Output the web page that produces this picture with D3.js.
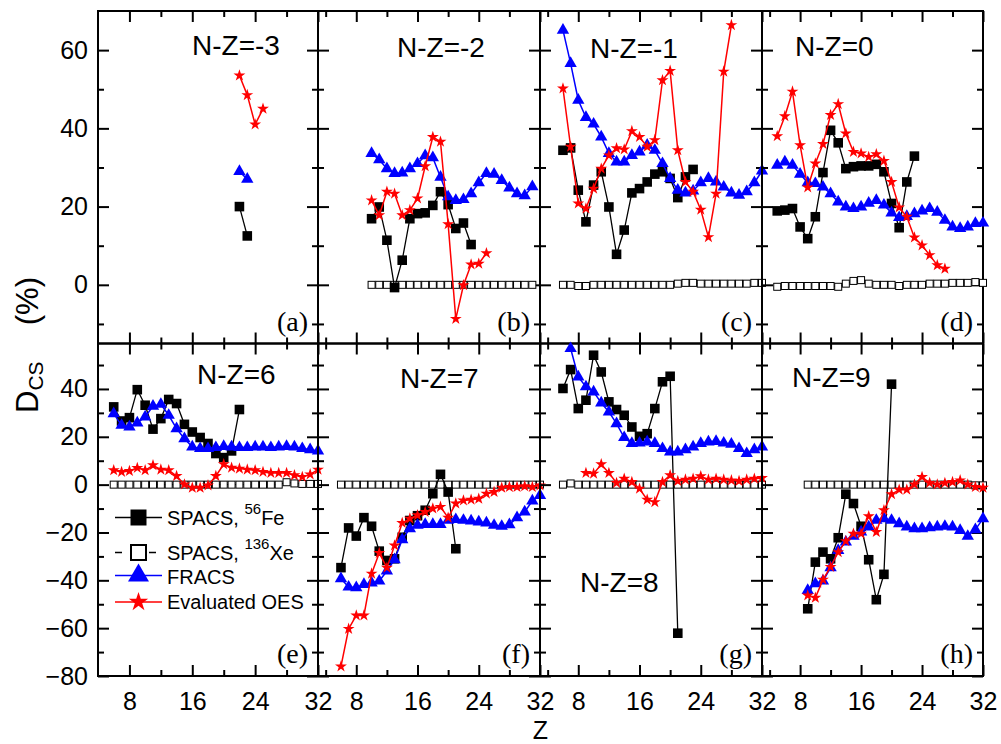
<!DOCTYPE html>
<html>
<head>
<meta charset="utf-8">
<script src="https://cdn.jsdelivr.net/npm/d3@7"></script>
<style>
  body { margin: 0; background: #fff; }
  svg { display: block; }
</style>
</head>
<body>
<div id="chart"></div>
<script>
// panel captions
const nzLabels = ["N-Z=-3", "N-Z=-2", "N-Z=-1", "N-Z=0", "N-Z=6", "N-Z=7", "N-Z=8", "N-Z=9"];
const panelTags = ["(a)", "(b)", "(c)", "(d)", "(e)", "(f)", "(g)", "(h)"];

// SPACS, 56Fe  (first Z of each panel, then consecutive Z values)
const feStart = [22, 10, 6, 5, 6, 6, 6, 9];
const feVals = [
  [20, 12.5],
  [16.9, 19.9, 11.4, -0.7, 6.3, 16.9, 18.2, 18.4, 20.3, 23.8, 20.5, 14.4, 15.8, 10.3],
  [34.4, 35.0, 24.2, 16.1, 25.5, 28.9, 19.9, 7.8, 14.0, 23.5, 24.6, 26.3, 28.3, 28.9, 27.2, 22.3, 27.6, 29.5],
  [18.9, 19.1, 19.5, 14.8, 11.8, 17.4, 28.7, 39.5, 36.3, 29.7, 30.2, 30.4, 30.4, 30.8, 28.9, 20.8, 14.6, 26.3, 32.9],
  [32.5, 26.6, 28.0, 39.7, 33.2, 23.2, 27.6, 35.6, 33.9, 25.2, 22.0, 19.7, 17.2, 13.0, 11.3, 14.1, 31.4],
  [-34.7, -18.1, -21.5, -13.8, -17.4, -27.8, -31.7, -31.0, -22.0, -15.0, -13.0, -10.7, -3.8, 4.3, -3.1, -26.8],
  [40.2, 48.1, 31.8, 35.3, 54.1, 47.1, 34.6, 31.4, 29.0, 24.1, 20.2, 21.3, 31.8, 43.0, 45.3, -62.1],
  [-51.9, -32.4, -28.2, -31.0, -22.2, -4.0, -7.9, -17.4, -31.4, -48.1, -37.5, 42.0]
];

// SPACS, 136Xe
const xeStart = [0, 10, 6, 5, 6, 6, 6, 9];
const xeVals = [
  [],
  [0, 0, 0, 0, 0, 0, 0, 0, 0, 0, 0, 0, 0, 0, 0, 0, 0, 0, 0, 0, 0, 0],
  [0, 0, -0.3, -0.3, 0, 0, 0, 0, 0, 0, 0, 0, 0, 0, 0, 0.3, 0.5, 0.5, 0.3, 0.3, 0.3, 0.3, 0.3, 0.3, 0.3, 0.5, 0.5],
  [-0.5, -0.3, -0.3, -0.3, -0.3, -0.3, -0.3, -0.3, -0.5, 0.3, 1.0, 1.2, 0.3, 0, 0, 0, -0.3, 0, 0, 0, 0.3, 0.3, 0.3, 0.5, 0.5, 0.5, 0.7, 0.5],
  [0, 0, 0, 0, 0, 0, 0, 0, 0, 0, 0, 0, 0, 0, 0, 0, 0, 0, 0, 0, 0, 0, 1.0, 0.5, 0.3, 0.3, 0.3],
  [0, 0, 0, 0, 0, 0, 0, 0, 0, 0, 0, 0, 0, 0, 0, 0, 0, 0, 0, 0, 0, 0, 0, 0, 0, 0, 0],
  [0, 0.5, 0, 0, 0, 0, 0, 0, 0, 0, 0, 0, 0, 0, 0, 0, 0, 0, 0, 0, 0, 0, 0, 0, 0, 0, 0],
  [0, 0, 0, 0, 0, 0, 0, 0, 0, 0, 0, 0, 0, 0, 0, 0, 0, 0, 0, 0, 0, 0, -0.3, -0.3]
];

// FRACS
const frStart = [22, 10, 6, 5, 6, 6, 7, 9];
const frVals = [
  [29, 27],
  [33.6, 32.0, 29.7, 28.5, 28.6, 29.7, 31.0, 33.0, 32.5, 27.5, 22.5, 21.6, 21.8, 23.3, 26.1, 28.5, 28.3, 26.7, 24.8, 23.3, 22.8, 25.1],
  [65.1, 56.6, 47.2, 42.8, 41.1, 37.8, 33.6, 31.4, 31.4, 33.1, 34.0, 35.7, 34.4, 31.0, 27.2, 24.2, 23.5, 24.0, 26.1, 27.2, 26.3, 25.0, 23.5, 22.9, 23.8, 26.1, 29.1],
  [30.6, 31.4, 30.6, 28.3, 26.1, 25.9, 25.0, 23.3, 21.2, 19.9, 19.5, 19.9, 20.9, 21.6, 20.4, 18.4, 17.2, 17.5, 18.2, 18.9, 19.5, 18.6, 16.5, 14.8, 14.4, 14.8, 15.7, 15.8],
  [29.7, 24.8, 24.1, 25.8, 28.3, 32.8, 33.6, 29.0, 23.4, 19.2, 15.8, 15.1, 15.1, 15.5, 16.0, 15.8, 15.5, 15.5, 15.8, 15.8, 15.5, 15.8, 16.0, 15.8, 15.1, 14.6, 14.1],
  [-39.3, -42.8, -43.1, -41.7, -41.1, -40.3, -36.1, -31.4, -23.0, -18.4, -17.0, -16.6, -16.6, -16.6, -14.9, -14.6, -14.9, -15.2, -15.6, -16.0, -17.0, -17.4, -16.7, -13.8, -11.4, -6.8, -4.5],
  [56.9, 45.0, 40.9, 38.8, 34.2, 30.4, 25.5, 19.7, 17.2, 17.4, 17.9, 17.2, 15.1, 13.7, 13.7, 14.6, 15.8, 17.2, 17.9, 18.1, 17.4, 16.9, 15.1, 13.0, 14.6, 15.8],
  [-44.2, -41.4, -40.3, -34.7, -27.5, -24.0, -21.6, -19.8, -17.7, -14.9, -14.2, -14.9, -16.3, -17.7, -18.4, -18.4, -18.0, -17.7, -17.4, -17.7, -19.1, -21.6, -18.8, -14.2]
];

// Evaluated OES
const oesStart = [22, 10, 6, 5, 6, 6, 9, 9];
const oesVals = [
  [53.5, 48.5, 41, 45],
  [21.6, 17.8, 23.8, 23.3, 17.8, 19.1, 22.1, 30.3, 37.8, 36.6, 15.5, -8.7, -0.1, 5.2, 5.4, 8.1],
  [50.2, 35.3, 20.8, 19.5, 24.6, 29.7, 33.1, 34.9, 34.6, 39.3, 37.8, 35.3, 37.0, 52.3, 54.7, 34.4, 26.3, 23.8, 19.2, 12.2, 23.3, 54.5, 66.4],
  [38.0, 43.1, 49.4, 35.7, 24.9, 31.0, 36.0, 43.4, 46.2, 38.7, 34.0, 33.6, 32.7, 33.4, 31.7, 26.3, 19.8, 17.4, 12.1, 10.1, 7.6, 5.0, 4.1],
  [6.0, 5.3, 5.7, 7.0, 6.0, 8.1, 6.3, 6.0, 3.6, 0.1, -1.3, -1.3, -0.3, 3.6, 8.5, 7.1, 6.7, 6.3, 6.0, 5.3, 4.9, 4.9, 4.9, 3.9, 3.2, 4.3, 6.3],
  [-76, -60.3, -54.7, -54.7, -37.2, -28.6, -34.7, -25.4, -16.0, -14.2, -12.8, -11.4, -10.0, -9.3, -13.8, -7.9, -6.6, -6.3, -5.9, -3.8, -3.1, -1.3, -1.0, -1.0, -0.7, -1.0, -0.3],
  [4.9, 4.6, 8.5, 4.9, 0.7, 2.5, 1.1, -1.7, -6.3, -7.3, 1.1, 3.9, 1.5, 2.1, 2.5, 3.5, 2.1, 2.5, 2.1, 1.8, 1.5, 2.1, 2.5, 2.8],
  [-46.3, -47.3, -39.7, -34.4, -28.2, -23.6, -20.5, -20.5, -13.2, -19.8, -10.7, -4.0, -2.1, -2.1, 0.1, 3.2, 0.7, 0.1, 0.7, 1.1, 1.8, 0.1, -1.0, -1.3]
];

// axes
const xDomains = [[4, 32], [3, 32], [3, 32], [3, 32]];
const yDomains = [[-15, 70], [-80, 59]];
const xMajor = [8, 16, 24, 32], xMinor = [4, 12, 20, 28];
const yMajor = [[0, 20, 40, 60], [-80, -60, -40, -20, 0, 20, 40]];
const yMinor = [[-10, 10, 30, 50], [-70, -50, -30, -10, 10, 30, 50]];

// legend
const legendNames = ["SPACS, ", "SPACS, ", "FRACS", "Evaluated OES"];

const W = 1001, Ht = 744;
const colL = [98, 318, 540, 762], colR = [318, 540, 762, 983];
const rowT = [11, 343.5], rowB = [343.5, 676];
const nzPos = [[192, 45], [397, 47], [590, 48], [795, 46], [197, 374], [400, 378], [580, 582], [792, 377]];
const SANS = "'Liberation Sans', Arial, sans-serif", SERIF = "'Liberation Serif', 'Times New Roman', serif";
const BLUE = "#0000ff", RED = "#ff0000";

const svg = d3.select("#chart").append("svg").attr("width", W).attr("height", Ht)
  .attr("viewBox", `0 0 ${W} ${Ht}`);

const sym = (type, size) => d3.symbol().type(type).size(size)();

function styleAxis(g) {
  g.select(".domain").remove();
  g.selectAll(".tick line").attr("stroke", "#000").attr("stroke-width", 2);
  g.selectAll(".tick text").attr("fill", "#000").style("font-family", SANS).style("font-size", "25px");
}

for (let p = 0; p < 8; p++) {
  const col = p % 4, row = Math.floor(p / 4);
  const x = d3.scaleLinear().domain(xDomains[col]).range([colL[col], colR[col]]);
  const y = d3.scaleLinear().domain(yDomains[row]).range([rowB[row], rowT[row]]);
  const inX = v => v >= xDomains[col][0] && v <= xDomains[col][1];
  const inY = v => v >= yDomains[row][0] && v <= yDomains[row][1];
  const g = svg.append("g");

  const xMaj = xMajor.filter(inX), xMin = xMinor.filter(v => inX(v) && v > xDomains[col][0]);
  const yMaj = yMajor[row].filter(inY), yMin = yMinor[row].filter(inY);

  // bottom
  g.append("g").attr("transform", `translate(0,${rowB[row]})`)
    .call(d3.axisBottom(x).tickValues(xMaj).tickSize(-11).tickPadding(16.5)
      .tickFormat(row === 1 ? d3.format("d") : "")).call(styleAxis);
  g.append("g").attr("transform", `translate(0,${rowB[row]})`)
    .call(d3.axisBottom(x).tickValues(xMin).tickSize(-6).tickFormat("")).call(styleAxis);
  // top
  g.append("g").attr("transform", `translate(0,${rowT[row]})`)
    .call(d3.axisTop(x).tickValues(xMaj).tickSize(-11).tickFormat("")).call(styleAxis);
  g.append("g").attr("transform", `translate(0,${rowT[row]})`)
    .call(d3.axisTop(x).tickValues(xMin).tickSize(-6).tickFormat("")).call(styleAxis);
  // left
  g.append("g").attr("transform", `translate(${colL[col]},0)`)
    .call(d3.axisLeft(y).tickValues(yMaj).tickSize(-11).tickPadding(10)
      .tickFormat(col === 0 ? d3.format("d") : "")).call(styleAxis);
  g.append("g").attr("transform", `translate(${colL[col]},0)`)
    .call(d3.axisLeft(y).tickValues(yMin).tickSize(-6).tickFormat("")).call(styleAxis);
  // right
  g.append("g").attr("transform", `translate(${colR[col]},0)`)
    .call(d3.axisRight(y).tickValues(yMaj).tickSize(-11).tickFormat("")).call(styleAxis);
  g.append("g").attr("transform", `translate(${colR[col]},0)`)
    .call(d3.axisRight(y).tickValues(yMin).tickSize(-6).tickFormat("")).call(styleAxis);

  g.append("rect").attr("x", colL[col]).attr("y", rowT[row])
    .attr("width", colR[col] - colL[col]).attr("height", rowB[row] - rowT[row])
    .attr("fill", "none").attr("stroke", "#000").attr("stroke-width", 2);

  const pts = (start, vals) => vals.map((v, i) => [start + i, v]);
  const line = d3.line().x(d => x(d[0])).y(d => y(d[1]));

  // SPACS 136Xe
  const xe = pts(xeStart[p], xeVals[p]);
  if (xe.length) {
    g.append("path").datum(xe).attr("d", line).attr("fill", "none")
      .attr("stroke", "#000").attr("stroke-width", 1).attr("stroke-dasharray", "4,3");
    g.selectAll(null).data(xe).join("rect")
      .attr("x", d => x(d[0]) - 3.5).attr("y", d => y(d[1]) - 3.5)
      .attr("width", 7).attr("height", 7)
      .attr("fill", "#fff").attr("stroke", "#000").attr("stroke-width", 1);
  }

  // SPACS 56Fe
  const fe = pts(feStart[p], feVals[p]);
  g.append("path").datum(fe).attr("d", line).attr("fill", "none")
    .attr("stroke", "#000").attr("stroke-width", 1.3);
  g.selectAll(null).data(fe).join("path")
    .attr("transform", d => `translate(${x(d[0])},${y(d[1])})`)
    .attr("d", sym(d3.symbolSquare, 92)).attr("fill", "#000");

  // FRACS
  const fr = pts(frStart[p], frVals[p]);
  g.append("path").datum(fr).attr("d", line).attr("fill", "none")
    .attr("stroke", BLUE).attr("stroke-width", 1.5);
  g.selectAll(null).data(fr).join("path")
    .attr("transform", d => `translate(${x(d[0])},${y(d[1])})`)
    .attr("d", sym(d3.symbolTriangle, 66)).attr("fill", BLUE);

  // Evaluated OES
  const oe = pts(oesStart[p], oesVals[p]);
  g.append("path").datum(oe).attr("d", line).attr("fill", "none")
    .attr("stroke", RED).attr("stroke-width", 1.5);
  g.selectAll(null).data(oe).join("path")
    .attr("transform", d => `translate(${x(d[0])},${y(d[1])})`)
    .attr("d", sym(d3.symbolStar, 44)).attr("fill", RED);

  // captions
  g.append("text").attr("x", nzPos[p][0]).attr("y", nzPos[p][1] + 10)
    .style("font-family", SANS).style("font-size", "28px").text(nzLabels[p]);
  g.append("text").attr("x", colR[col] - 10).attr("y", rowB[row] - 13)
    .attr("text-anchor", "end")
    .style("font-family", SERIF).style("font-size", "28px").text(panelTags[p]);
}

// legend (inside panel e)
const lg = svg.append("g").style("font-family", SANS).style("font-size", "20px");
const lgY = [517.5, 552.5, 575.5, 602];
const lgBase = [525, 559.5, 584, 608.5];
lg.append("line").attr("x1", 115).attr("x2", 162).attr("y1", lgY[0]).attr("y2", lgY[0])
  .attr("stroke", "#000").attr("stroke-width", 1.5);
lg.append("path").attr("transform", `translate(138.5,${lgY[0]})`).attr("d", sym(d3.symbolSquare, 256)).attr("fill", "#000");
lg.append("line").attr("x1", 115).attr("x2", 156).attr("y1", lgY[1]).attr("y2", lgY[1])
  .attr("stroke", "#000").attr("stroke-width", 1.5).attr("stroke-dasharray", "7,27,7");
lg.append("rect").attr("x", 131).attr("y", lgY[1] - 7.5).attr("width", 15).attr("height", 15)
  .attr("fill", "#fff").attr("stroke", "#000").attr("stroke-width", 2);
lg.append("line").attr("x1", 115).attr("x2", 162).attr("y1", lgY[2]).attr("y2", lgY[2])
  .attr("stroke", BLUE).attr("stroke-width", 1.5);
lg.append("path").attr("transform", `translate(138.5,${lgY[2]})`).attr("d", sym(d3.symbolTriangle, 190)).attr("fill", BLUE);
lg.append("line").attr("x1", 115).attr("x2", 162).attr("y1", lgY[3]).attr("y2", lgY[3])
  .attr("stroke", RED).attr("stroke-width", 1.5);
lg.append("path").attr("transform", `translate(138.5,${lgY[3]})`).attr("d", sym(d3.symbolStar, 115)).attr("fill", RED);

const t0 = lg.append("text").attr("x", 167).attr("y", lgBase[0]);
t0.append("tspan").text(legendNames[0]);
t0.append("tspan").attr("dy", -11).style("font-size", "15px").text("56");
t0.append("tspan").attr("dy", 11).text("Fe");
const t1 = lg.append("text").attr("x", 167).attr("y", lgBase[1]);
t1.append("tspan").text(legendNames[1]);
t1.append("tspan").attr("dy", -11).style("font-size", "15px").text("136");
t1.append("tspan").attr("dy", 11).text("Xe");
lg.append("text").attr("x", 167).attr("y", lgBase[2]).text(legendNames[2]);
lg.append("text").attr("x", 167).attr("y", lgBase[3]).text(legendNames[3]);

// axis titles
const yt = svg.append("text").attr("transform", "translate(38,413) rotate(-90)")
  .style("font-family", SANS).style("font-size", "31px");
yt.append("tspan").text("D");
yt.append("tspan").attr("dy", 5).style("font-size", "21px").text("CS");
svg.append("text").attr("transform", "translate(38,277) rotate(-90)").attr("text-anchor", "end")
  .style("font-family", SANS).style("font-size", "31px").text("(%)");
svg.append("text").attr("x", 540.5).attr("y", 738.5).attr("text-anchor", "middle")
  .style("font-family", SANS).style("font-size", "25px").text("Z");
</script>
</body>
</html>
